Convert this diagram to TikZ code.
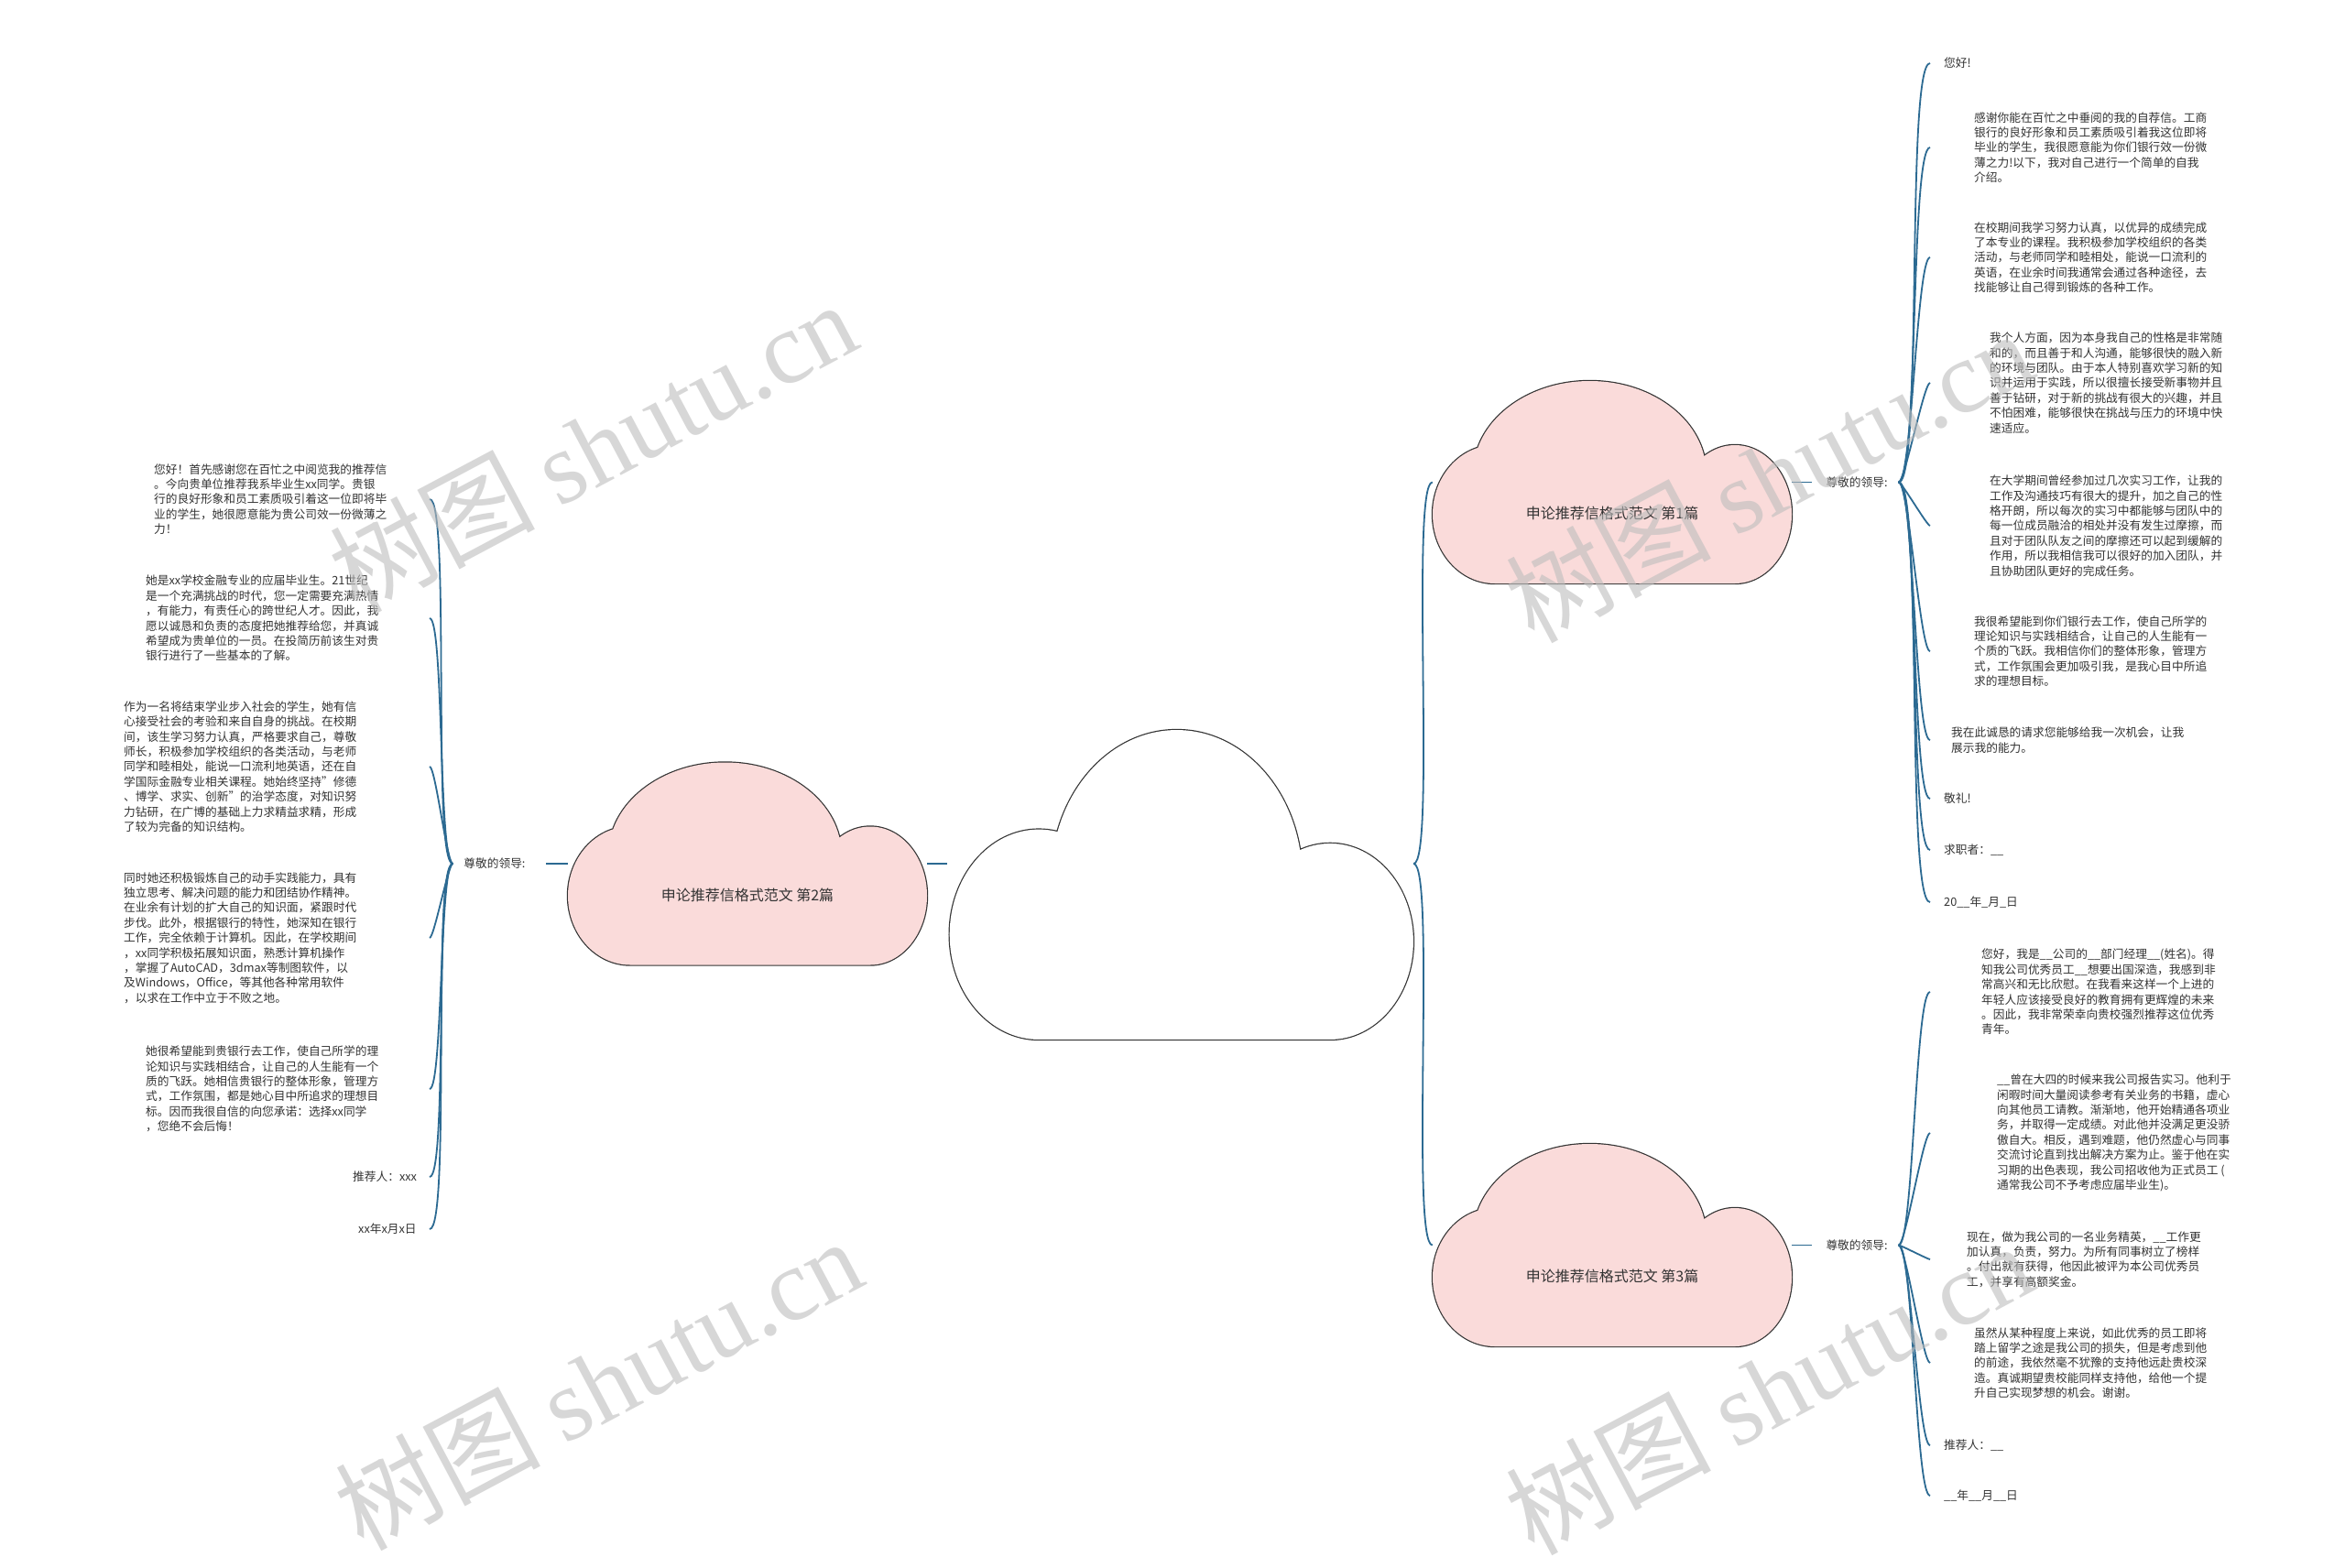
\documentclass[tikz,border=0pt]{standalone}
\usepackage{fontspec}
\setmainfont{Noto Sans CJK SC}
\newfontfamily\wmserif{Liberation Serif}
\definecolor{linkblue}{HTML}{2C6A92}
\definecolor{cloudpink}{HTML}{FADBDA}
\definecolor{ink}{HTML}{333333}
\definecolor{wmgray}{HTML}{BDBDBD}
\newcommand{\cloudpath}{(-3,5) circle[radius=105.5] (-119,-35.5) circle[radius=75] (126,-40.5) circle[radius=70] (-119,-110.5) -- (126,-110.5) -- (126,-35.5) -- (-119,-35.5) -- cycle}
\newcommand{\pinkpath}{(-24.5,10) ellipse[x radius=127,y radius=100.5] (-128,-35) ellipse[x radius=68,y radius=75.5] (134,-35) ellipse[x radius=62,y radius=75.5] (-128,-110.5) -- (134,-110.5) -- (134,-35) -- (-128,-35) -- cycle}
\begin{document}
\begin{tikzpicture}[x=1pt,y=1pt,
  item/.style={anchor=west,inner sep=0pt,align=left,text=ink,font=\fontsize{12.7}{16.4}\selectfont},
  lead/.style={inner xsep=12pt,inner ysep=2pt,text=ink,font=\fontsize{12.7}{16.4}\selectfont},
  cloudbox/.style={minimum width=392pt,minimum height=221pt,inner sep=0pt},
  title/.style={text=ink,font=\fontsize{16}{19}\selectfont},
  link/.style={draw=linkblue,line width=1.8pt},
  fan/.style={link,looseness=.15},
  wmark/.style={text=wmgray,opacity=.6,rotate=28,font=\fontsize{112}{112}\selectfont}]
\fill[white] (0,0) rectangle (2560,-1703);
% clouds
\coordinate (p0) at (1288.5,-966);
\coordinate (p1) at (1760,-526.5);
\coordinate (p2) at (816,-943);
\coordinate (p3) at (1760,-1359.5);
\begin{scope}[shift={(p0)},xscale=1.298,yscale=1.529]
\draw[line width=2.4pt,draw=ink,line join=round] \cloudpath;
\fill[white] \cloudpath;
\end{scope}
\foreach \p in {p1,p2,p3}{
\begin{scope}[shift={(\p)}]
\draw[line width=2.4pt,draw=ink,line join=round] \pinkpath;
\fill[cloudpink] \pinkpath;
\end{scope}}
\node (c0) [cloudbox,minimum width=509pt,minimum height=338pt] at (p0) {};
\node (c1) [cloudbox] at (p1) {};
\node (c2) [cloudbox] at (p2) {};
\node (c3) [cloudbox] at (p3) {};
\node (t1) [title] at ([yshift=-34pt]c1.center) {申论推荐信格式范文 第1篇};
\node (t2) [title] at ([yshift=-34pt]c2.center) {申论推荐信格式范文 第2篇};
\node (t3) [title] at ([yshift=-34pt]c3.center) {申论推荐信格式范文 第3篇};
\node (lab1) [lead] at (2027,-526.5) {尊敬的领导:};
\node (lab2) [lead] at (540,-943) {尊敬的领导:};
\node (lab3) [lead] at (2027,-1359.5) {尊敬的领导:};
\coordinate (xl) at (469,0);
\coordinate (xr) at (2107,0);
% left letter
\node (l1) [item] at (168,-545) {您好！首先感谢您在百忙之中阅览我的推荐信\\。今向贵单位推荐我系毕业生xx同学。贵银\\行的良好形象和员工素质吸引着这一位即将毕\\业的学生，她很愿意能为贵公司效一份微薄之\\力！};
\node (l2) [item] at (159,-675) {她是xx学校金融专业的应届毕业生。21世纪\\是一个充满挑战的时代，您一定需要充满热情\\，有能力，有责任心的跨世纪人才。因此，我\\愿以诚恳和负责的态度把她推荐给您，并真诚\\希望成为贵单位的一员。在投简历前该生对贵\\银行进行了一些基本的了解。};
\node (l3) [item] at (135,-837) {作为一名将结束学业步入社会的学生，她有信\\心接受社会的考验和来自自身的挑战。在校期\\间，该生学习努力认真，严格要求自己，尊敬\\师长，积极参加学校组织的各类活动，与老师\\同学和睦相处，能说一口流利地英语，还在自\\学国际金融专业相关课程。她始终坚持"修德\\、博学、求实、创新"的治学态度，对知识努\\力钻研，在广博的基础上力求精益求精，形成\\了较为完备的知识结构。};
\node (l4) [item] at (135,-1024) {同时她还积极锻炼自己的动手实践能力，具有\\独立思考、解决问题的能力和团结协作精神。\\在业余有计划的扩大自己的知识面，紧跟时代\\步伐。此外，根据银行的特性，她深知在银行\\工作，完全依赖于计算机。因此，在学校期间\\，xx同学积极拓展知识面，熟悉计算机操作\\，掌握了AutoCAD，3dmax等制图软件，以\\及Windows，Office，等其他各种常用软件\\，以求在工作中立于不败之地。};
\node (l5) [item] at (159,-1189) {她很希望能到贵银行去工作，使自己所学的理\\论知识与实践相结合，让自己的人生能有一个\\质的飞跃。她相信贵银行的整体形象，管理方\\式，工作氛围，都是她心目中所追求的理想目\\标。因而我很自信的向您承诺：选择xx同学\\，您绝不会后悔！};
\node (l6) [item] at (385,-1285) {推荐人：xxx};
\node (l7) [item] at (391,-1342) {xx年x月x日};
% right letter 1
\node (r1) [item] at (2122,-69) {您好!};
\node (r2) [item] at (2155,-161) {感谢你能在百忙之中垂阅的我的自荐信。工商\\银行的良好形象和员工素质吸引着我这位即将\\毕业的学生，我很愿意能为你们银行效一份微\\薄之力!以下，我对自己进行一个简单的自我\\介绍。};
\node (r3) [item] at (2155,-281) {在校期间我学习努力认真，以优异的成绩完成\\了本专业的课程。我积极参加学校组织的各类\\活动，与老师同学和睦相处，能说一口流利的\\英语，在业余时间我通常会通过各种途径，去\\找能够让自己得到锻炼的各种工作。};
\node (r4) [item] at (2172,-418) {我个人方面，因为本身我自己的性格是非常随\\和的，而且善于和人沟通，能够很快的融入新\\的环境与团队。由于本人特别喜欢学习新的知\\识并运用于实践，所以很擅长接受新事物并且\\善于钻研，对于新的挑战有很大的兴趣，并且\\不怕困难，能够很快在挑战与压力的环境中快\\速适应。};
\node (r5) [item] at (2172,-574) {在大学期间曾经参加过几次实习工作，让我的\\工作及沟通技巧有很大的提升，加之自己的性\\格开朗，所以每次的实习中都能够与团队中的\\每一位成员融洽的相处并没有发生过摩擦，而\\且对于团队队友之间的摩擦还可以起到缓解的\\作用，所以我相信我可以很好的加入团队，并\\且协助团队更好的完成任务。};
\node (r6) [item] at (2155,-711) {我很希望能到你们银行去工作，使自己所学的\\理论知识与实践相结合，让自己的人生能有一\\个质的飞跃。我相信你们的整体形象，管理方\\式，工作氛围会更加吸引我，是我心目中所追\\求的理想目标。};
\node (r7) [item] at (2130,-808) {我在此诚恳的请求您能够给我一次机会，让我\\展示我的能力。};
\node (r8) [item] at (2122,-872) {敬礼!};
\node (r9) [item] at (2122,-928) {求职者：\_\_};
\node (r10) [item] at (2122,-985) {20\_\_年\_月\_日};
% right letter 3
\node (r11) [item] at (2163,-1083) {您好，我是\_\_公司的\_\_部门经理\_\_(姓名)。得\\知我公司优秀员工\_\_想要出国深造，我感到非\\常高兴和无比欣慰。在我看来这样一个上进的\\年轻人应该接受良好的教育拥有更辉煌的未来\\。因此，我非常荣幸向贵校强烈推荐这位优秀\\青年。};
\node (r12) [item] at (2180,-1237) {\_\_曾在大四的时候来我公司报告实习。他利于\\闲暇时间大量阅读参考有关业务的书籍，虚心\\向其他员工请教。渐渐地，他开始精通各项业\\务，并取得一定成绩。对此他并没满足更没骄\\傲自大。相反，遇到难题，他仍然虚心与同事\\交流讨论直到找出解决方案为止。鉴于他在实\\习期的出色表现，我公司招收他为正式员工 (\\通常我公司不予考虑应届毕业生)。};
\node (r13) [item] at (2147,-1375) {现在，做为我公司的一名业务精英，\_\_工作更\\加认真，负责，努力。为所有同事树立了榜样\\。付出就有获得，他因此被评为本公司优秀员\\工，并享有高额奖金。};
\node (r14) [item] at (2155,-1488) {虽然从某种程度上来说，如此优秀的员工即将\\踏上留学之途是我公司的损失，但是考虑到他\\的前途，我依然毫不犹豫的支持他远赴贵校深\\造。真诚期望贵校能同样支持他，给他一个提\\升自己实现梦想的机会。谢谢。};
\node (r15) [item] at (2122,-1578) {推荐人：\_\_};
\node (r16) [item] at (2122,-1633) {\_\_年\_\_月\_\_日};
% links
\draw[link] (c2.east) -- (c2.east -| c0.west);
\draw[fan] (c0.east |- c2.east) to[out=0,in=180] (c1.west);
\draw[fan] (c0.east |- c2.east) to[out=0,in=180] (c3.west);
\draw[link,shorten >=10pt] (c2.west) -- (lab2.east);
\draw[link,shorten >=3pt] (c1.east) -- (lab1.west);
\draw[link,shorten >=3pt] (c3.east) -- (lab3.west);
\foreach \i in {1,...,7} \draw[fan] (lab2.west) to[out=180,in=0] (l\i -| xl);
\foreach \i in {1,...,10} \draw[fan] (lab1.east) to[out=0,in=180] (r\i -| xr);
\foreach \i in {11,...,16} \draw[fan] (lab3.east) to[out=0,in=180] (r\i -| xr);
% watermarks
\node (w1) [wmark] at (647,-487) {树图 {\wmserif shutu.cn}};
\node (w2) [wmark] at (653,-1510) {树图 {\wmserif shutu.cn}};
\node (w3) [wmark] at (1931,-519) {树图 {\wmserif shutu.cn}};
\node (w4) [wmark] at (1931,-1515) {树图 {\wmserif shutu.cn}};
\end{tikzpicture}
\end{document}
